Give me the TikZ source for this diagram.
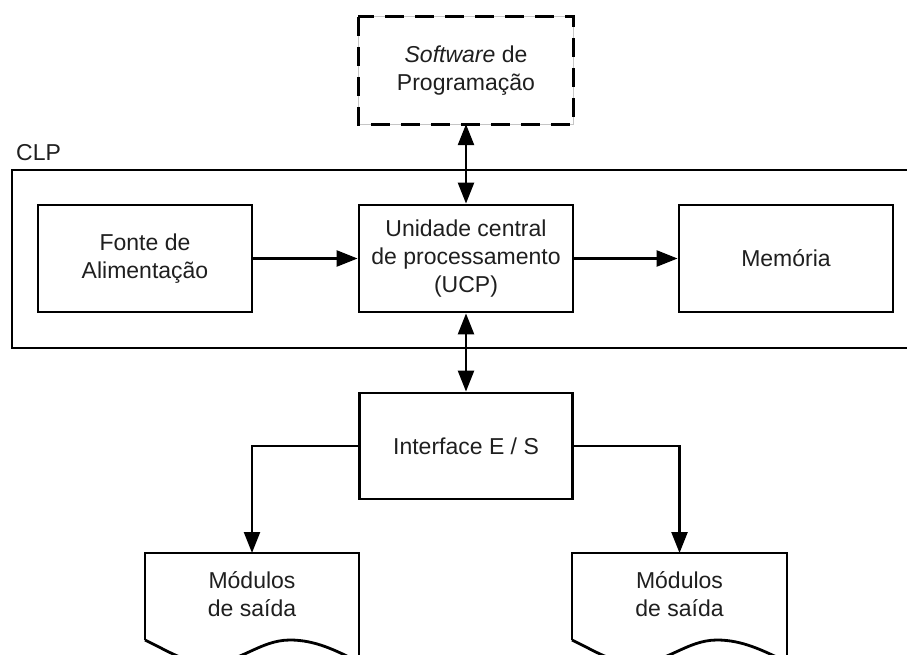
\documentclass[tikz,border=0pt]{standalone}
\usepackage{fontspec}
\setmainfont{Liberation Sans}
\usetikzlibrary{arrows.meta}
\tikzset{
  txt/.style={font=\fontsize{23}{27.6}\selectfont, text=black!88, align=center, inner sep=0pt},
  blk/.style={txt, draw=black, line width=2.8pt, minimum width=214pt, minimum height=107pt},
  arr/.style={line width=2.4pt, -{Triangle[length=21pt,width=16pt]}},
  darr/.style={line width=2.4pt, {Triangle[length=21pt,width=16pt]}-{Triangle[length=21pt,width=16pt]}},
  docshape/.style={line width=2.8pt, draw=black}
}
\begin{document}
\begin{tikzpicture}[x=1pt,y=-1pt]
\clip (0,0) rectangle (907,655);
\fill[white] (0,0) rectangle (907,655);
% CLP frame
\draw[line width=2.8pt] (930,170) -- (12,170) -- (12,348) -- (930,348);
\node[txt, anchor=base west] (clp) at (16,161) {CLP};
% software box
\node[txt, minimum width=215pt, minimum height=107pt] (soft) at (466,70.5) {\textit{Software} de\\Programação};
\draw[gray!45, line width=0.6pt] (soft.north west) rectangle (soft.south east);
\draw[line width=2.8pt, dash pattern=on 19pt off 11pt] (soft.north west) rectangle (soft.south east);
% main blocks
\node[blk] (fonte) at (145,258.5) {Fonte de\\Alimentação};
\node[blk] (ucp) at (466,258.5) {Unidade central\\de processamento\\(UCP)};
\node[blk] (mem) at (786,258.5) {Memória};
\node[blk, minimum width=213pt, minimum height=106pt] (inter) at (466,446) {Interface E / S};
% document shapes
\node[txt, minimum width=214pt, minimum height=82pt, anchor=north] (docL) at (252,553) {Módulos\\de saída};
\node[txt, minimum width=215pt, minimum height=82pt, anchor=north] (docR) at (679.5,553) {Módulos\\de saída};
\draw[docshape] (145,640) -- (145,553) -- (359,553) -- (359,670);
\draw[docshape] (145,640) .. controls (170,652) and (185,663) .. (210,663)
  .. controls (240,663) and (260,640) .. (290,640)
  .. controls (315,640) and (335,650) .. (359,662);
\begin{scope}[xshift=427pt]
\draw[docshape] (145,640) -- (145,553) -- (360,553) -- (360,670);
\draw[docshape] (145,640) .. controls (170,652) and (185,663) .. (210,663)
  .. controls (240,663) and (260,640) .. (290,640)
  .. controls (315,640) and (335,650) .. (360,662);
\end{scope}
% connectors
\draw[darr] (soft.south) -- (ucp.north);
\draw[arr] (fonte) -- (ucp);
\draw[arr] (ucp) -- (mem);
\draw[darr] (ucp) -- (inter);
\draw[arr] (inter.west) -| (docL.north);
\draw[arr] (inter.east) -| (docR.north);
\end{tikzpicture}
\end{document}
